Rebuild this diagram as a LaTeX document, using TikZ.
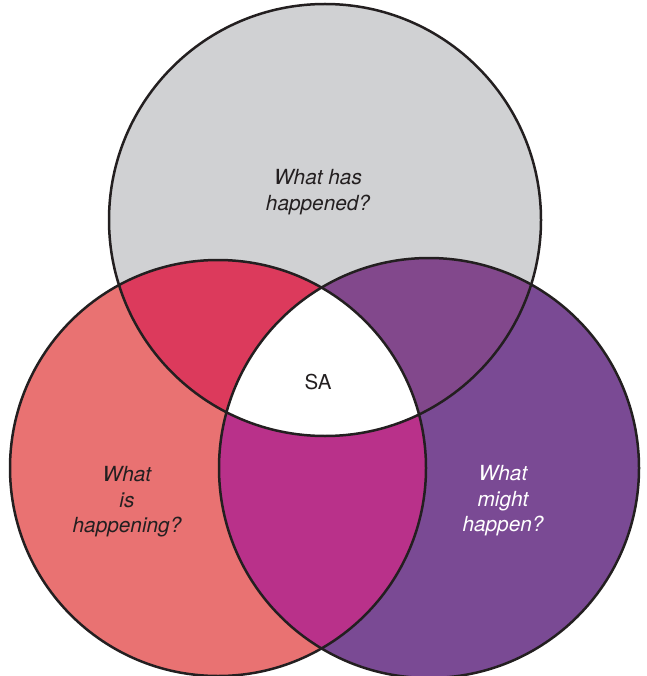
\documentclass[tikz,border=0pt]{standalone}
\usepackage{fontspec}
\setmainfont{TeX Gyre Heros}
\definecolor{cgray}{HTML}{D0D1D3}
\definecolor{csalmon}{HTML}{E97272}
\definecolor{cpurple}{HTML}{7A4A94}
\definecolor{ctl}{HTML}{DC3A5C}
\definecolor{ctr}{HTML}{82488C}
\definecolor{clr}{HTML}{B9318A}
\definecolor{cline}{HTML}{231F20}
\begin{document}
\begin{tikzpicture}[x=1pt,y=-1pt,
  lbl/.style={font=\fontsize{20.8}{25.5}\selectfont\itshape, align=center, text=cline},
  ring/.style={draw=cline, line width=2.5pt}]
\useasboundingbox (0,0) rectangle (646,676);
\def\Ctop{(325,220) circle[radius=216pt]}
\def\Cleft{(218,468) circle[radius=208pt]}
\def\Cright{(429,468) circle[radius=210pt]}
\fill[cgray] \Ctop;
\fill[csalmon] \Cleft;
\fill[cpurple] \Cright;
\begin{scope}\clip \Ctop; \fill[ctl] \Cleft; \end{scope}
\begin{scope}\clip \Ctop; \fill[ctr] \Cright; \end{scope}
\begin{scope}\clip \Cleft; \fill[clr] \Cright; \end{scope}
\begin{scope}\clip \Ctop; \clip \Cleft; \fill[white] \Cright; \end{scope}
\draw[ring] \Ctop;
\draw[ring] \Cleft;
\draw[ring] \Cright;
\node[lbl] (past) at (318,192) {What has\\happened?};
\node[font=\fontsize{20.5}{24}\selectfont, text=cline] (sa) at (318,382) {SA};
\node[lbl] (now) at (127,502) {What\\is\\happening?};
\node[lbl, text=white] (future) at (503,501) {What\\might\\happen?};
\end{tikzpicture}
\end{document}
